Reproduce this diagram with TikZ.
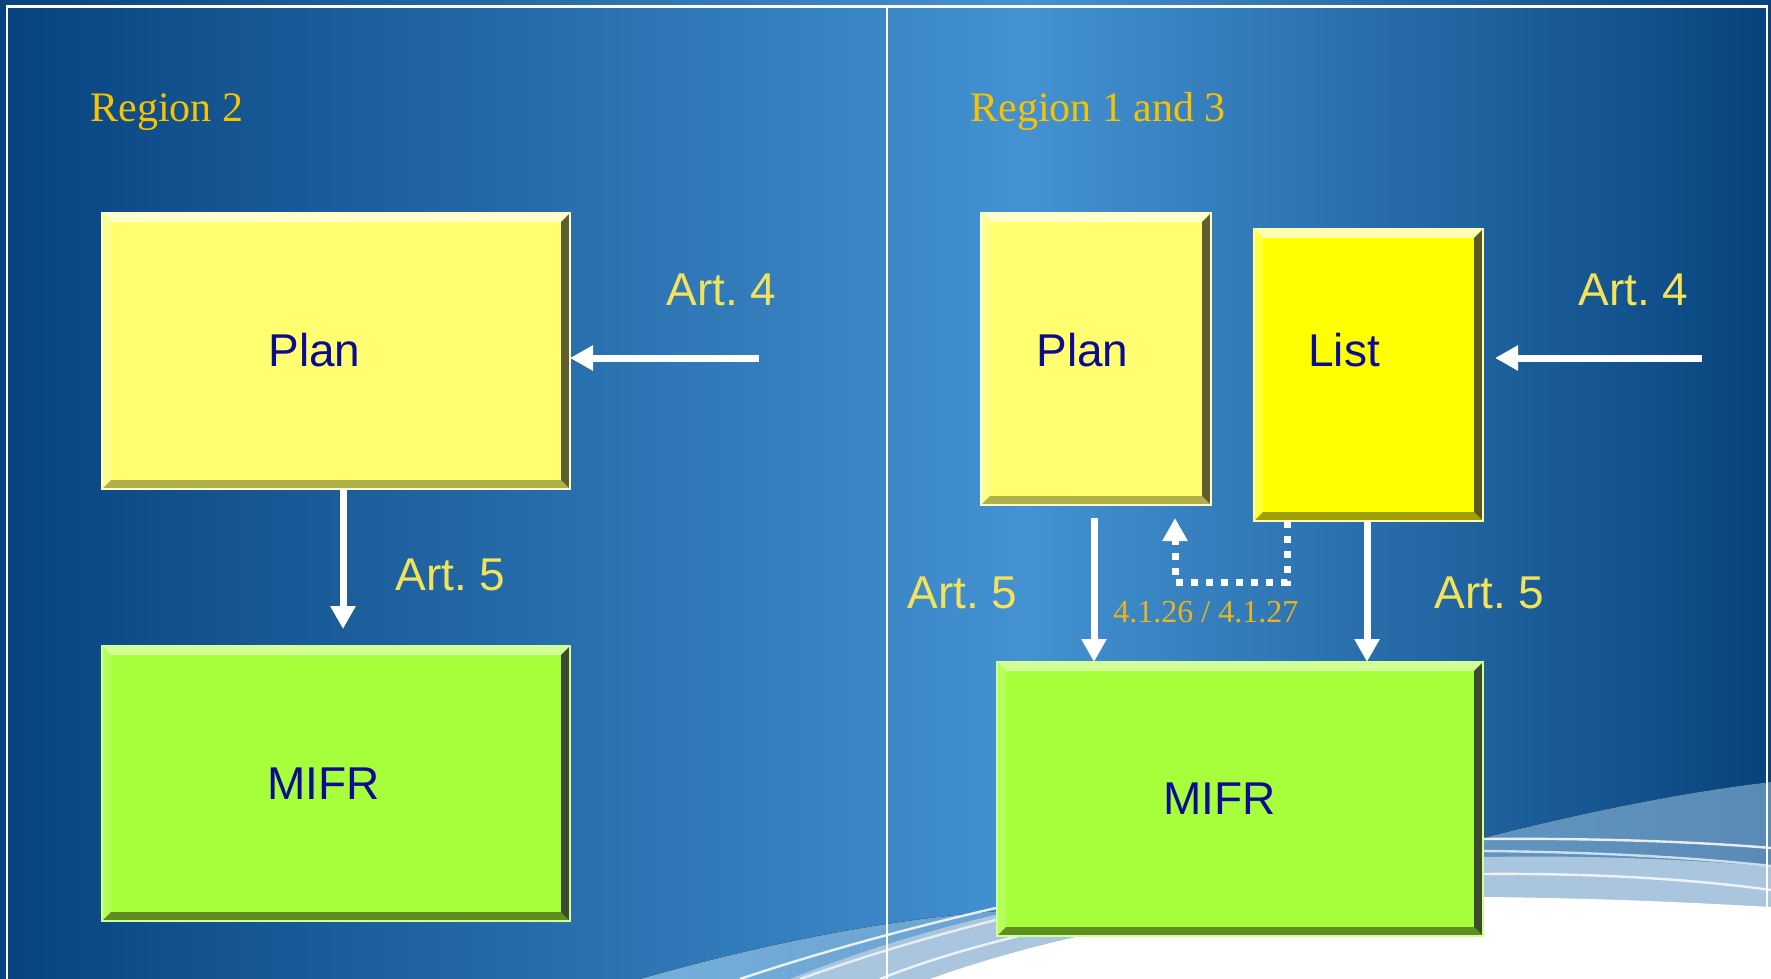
\documentclass[tikz,border=0pt]{standalone}
\usepackage{fontspec}
\setmainfont{Liberation Serif}
\newfontfamily\arialf{Liberation Sans}
\usetikzlibrary{arrows.meta}
\frenchspacing
\definecolor{bgdark}{HTML}{06437F}
\definecolor{bgmid}{HTML}{4492D2}
\definecolor{bgright}{HTML}{07437D}
\definecolor{bandl}{HTML}{74AEDB}
\definecolor{bandr}{HTML}{5A8BB6}
\definecolor{bandlt}{HTML}{AAC6DF}
\definecolor{planf}{HTML}{FFFF70}
\definecolor{planhi}{HTML}{FFFFC8}
\definecolor{planlo}{HTML}{B0B048}
\definecolor{planrt}{HTML}{5E5E30}
\definecolor{listf}{HTML}{FFFF00}
\definecolor{listhi}{HTML}{FFFFB0}
\definecolor{listlo}{HTML}{A0A000}
\definecolor{listrt}{HTML}{5A5A20}
\definecolor{mifrf}{HTML}{A6FF3A}
\definecolor{mifrhi}{HTML}{D2FF96}
\definecolor{mifrlo}{HTML}{5E8E20}
\definecolor{mifrrt}{HTML}{3C4A30}
\definecolor{txtblue}{HTML}{0C0C92}
\definecolor{artyel}{HTML}{F2E35A}
\definecolor{reggold}{HTML}{F7C300}
\definecolor{numgold}{HTML}{E9B420}
\pgfdeclarehorizontalshading{bgshade}{100bp}{color(0bp)=(bgdark); color(25bp)=(bgdark); color(54bp)=(bgmid); color(75bp)=(bgright); color(100bp)=(bgright)}
\tikzset{
  box/.style n args={4}{rectangle, inner sep=0pt, outer sep=0pt, fill=#1, draw=#2, line width=0.6pt,
    path picture={
      \fill[#2] (path picture bounding box.north west) -- (path picture bounding box.north east)
        -- ([shift={(-4.5pt,-4.5pt)}]path picture bounding box.north east)
        -- ([shift={(4.5pt,-4.5pt)}]path picture bounding box.north west) -- cycle;
      \fill[#2!35!#1] (path picture bounding box.north west) -- (path picture bounding box.south west)
        -- ([shift={(4.5pt,4.5pt)}]path picture bounding box.south west)
        -- ([shift={(4.5pt,-4.5pt)}]path picture bounding box.north west) -- cycle;
      \fill[#3] (path picture bounding box.south west) -- (path picture bounding box.south east)
        -- ([shift={(-4.5pt,4.5pt)}]path picture bounding box.south east)
        -- ([shift={(4.5pt,4.5pt)}]path picture bounding box.south west) -- cycle;
      \fill[#4] (path picture bounding box.north east) -- (path picture bounding box.south east)
        -- ([shift={(-4.5pt,4.5pt)}]path picture bounding box.south east)
        -- ([shift={(-4.5pt,-4.5pt)}]path picture bounding box.north east) -- cycle;
    }},
  lab/.style={inner sep=0pt, anchor=base west, text=txtblue, font=\arialf\fontsize{23}{27}\selectfont},
  art/.style={inner sep=0pt, anchor=base west, text=artyel, font=\arialf\fontsize{23}{27}\selectfont},
  reg/.style={inner sep=0pt, anchor=base west, text=reggold, font=\fontsize{21}{25}\selectfont},
  num/.style={inner sep=0pt, anchor=base west, text=numgold, font=\fontsize{16}{19}\selectfont},
  arr/.style={draw=white, line width=3.5pt, -{Triangle[width=12pt,length=11.5pt]}},
  dotarr/.style={draw=white, line width=3.5pt, dash pattern=on 3.5pt off 4pt, -{Triangle[width=12pt,length=11.5pt]}},
  frame/.style={draw=white, line width=1.3pt}
}
\begin{document}
\begin{tikzpicture}[x=0.5pt,y=-0.5pt]
\useasboundingbox (0,0) rectangle (1771,979);
% background
\shade[shading=bgshade] (0,0) rectangle (1771,979);
% swoosh
\fill[left color=bandl, right color=bandr] (640,979) .. controls (760,945) and (880,920) .. (1000,911)
  -- (1483,838) .. controls (1600,808) and (1700,790) .. (1771,782) -- (1771,979) -- cycle;
\fill[bandlt] (790,979) .. controls (950,915) and (1150,870) .. (1483,857)
  .. controls (1600,855) and (1700,860) .. (1771,867) -- (1771,979) -- cycle;
\draw[white, line width=1.2pt, opacity=0.85] (740,979) .. controls (900,925) and (1200,850) .. (1483,839)
  .. controls (1600,838) and (1700,842) .. (1771,848);
\draw[white, line width=1.2pt, opacity=0.7] (800,979) .. controls (950,925) and (1200,860) .. (1483,851)
  .. controls (1600,852) and (1700,858) .. (1771,866);
\draw[white, line width=1.2pt, opacity=0.8] (880,979) .. controls (1000,930) and (1250,880) .. (1483,874)
  .. controls (1600,873) and (1700,880) .. (1771,890);
\fill[white] (930,979) .. controls (1100,918) and (1300,895) .. (1483,897)
  .. controls (1600,898) and (1700,903) .. (1771,907) -- (1771,979) -- cycle;
% frame
\draw[frame] (7,979) -- (7,6.5) -- (1767,6.5) -- (1767,979);
\draw[frame] (887,6.5) -- (887,979);
% boxes
\node[box={planf}{planhi}{planlo}{planrt}, minimum width=234pt, minimum height=138pt] (plan2) at (336,351) {};
\node[box={mifrf}{mifrhi}{mifrlo}{mifrrt}, minimum width=234pt, minimum height=137.5pt] (mifr2) at (336,783.5) {};
\node[box={planf}{planhi}{planlo}{planrt}, minimum width=115pt, minimum height=146pt] (plan13) at (1096,359) {};
\node[box={listf}{listhi}{listlo}{listrt}, minimum width=114.5pt, minimum height=146pt] (list) at (1368.5,375) {};
\node[box={mifrf}{mifrhi}{mifrlo}{mifrrt}, minimum width=243pt, minimum height=137pt] (mifr13) at (1240,799) {};
% texts
\node[reg] (r2) at (90,121) {Region 2};
\node[reg] (r13) at (970,121) {Region 1 and 3};
\node[lab] (tplan2) at (268,366) {Plan};
\node[lab] (tmifr2) at (267,799) {MIFR};
\node[lab] (tplan13) at (1036,366) {Plan};
\node[lab] (tlist) at (1308,366) {List};
\node[lab] (tmifr13) at (1163,814) {MIFR};
\node[art] (a4l) at (666,305) {Art. 4};
\node[art] (a5l) at (395,590) {Art. 5};
\node[art] (a4r) at (1578,305) {Art. 4};
\node[art] (a5rl) at (907,608) {Art. 5};
\node[art] (a5rr) at (1434,608) {Art. 5};
\node[num] (num) at (1113,622) {4.1.26 / 4.1.27};
% connectors
\coordinate (a4ls) at (759,358);
\draw[arr] (a4ls) -- (a4ls -| plan2.east);
\coordinate (p2x) at (343,0);
\draw[arr, shorten >=8.5pt] (plan2.south -| p2x) -- (mifr2.north -| p2x);
\coordinate (p13x) at (1094,0);
\draw[arr, shorten <=6.5pt] (plan13.south -| p13x) -- (mifr13.north -| p13x);
\coordinate (lx) at (1367,0);
\draw[arr] (list.south -| lx) -- (mifr13.north -| lx);
\coordinate (a4rs) at (1702,358);
\draw[arr, shorten >=6pt] (a4rs) -- (a4rs -| list.east);
\coordinate (dx) at (1287,0);
\coordinate (dy) at (0,582);
\coordinate (ux) at (1175,0);
\draw[dotarr, shorten >=6.5pt] (list.south -| dx) -- (dx |- dy) -- (ux |- dy) -- (ux |- plan13.south);
\end{tikzpicture}
\end{document}
